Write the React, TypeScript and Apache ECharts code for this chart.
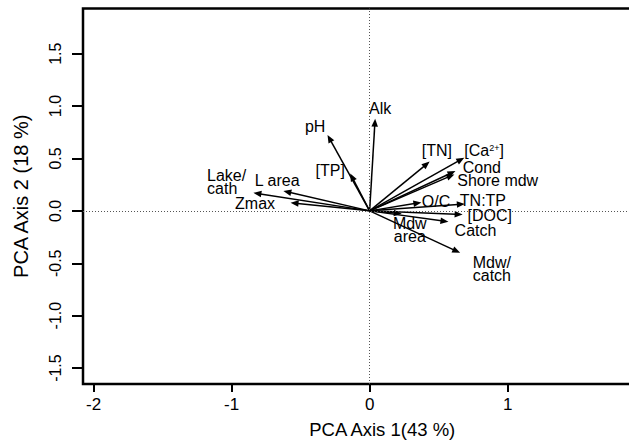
import React, { useEffect, useRef } from "react";
import * as echarts from "echarts";

// Variable loadings on the first two principal components
const varNames = [
  "Alk", "pH", "[TP]", "Lake/cath", "L area", "Zmax",
  "[TN]", "[Ca2+]", "Cond", "Shore mdw", "O/C", "TN:TP",
  "[DOC]", "Catch", "Mdw area", "Mdw/catch",
];
const axis1 = [
  0.04, -0.305, -0.141, -0.842, -0.625, -0.573,
  0.435, 0.686, 0.622, 0.614, 0.375, 0.69,
  0.674, 0.571, 0.233, 0.656,
];
const axis2 = [
  0.88, 0.725, 0.357, 0.172, 0.19, 0.078,
  0.47, 0.507, 0.38, 0.348, 0.08, 0.066,
  -0.035, -0.104, -0.027, -0.4,
];

// Where each variable's name sits, in axis units
const labelText = [
  "Alk", "pH", "[TP]", "Lake/\ncath", "L area", "Zmax",
  "[TN]", "[Ca{sup|2+}]", "Cond", "Shore mdw", "O/C", "TN:TP",
  "[DOC]", "Catch", "Mdw\narea", "Mdw/\ncatch",
];
const labelX = [
  0.076, -0.395, -0.286, -1.178, -0.67, -0.83,
  0.487, 0.83, 0.813, 0.928, 0.481, 0.821,
  0.871, 0.767, 0.291, 0.886,
];
const labelY = [
  0.981, 0.801, 0.385, 0.272, 0.29, 0.068,
  0.577, 0.577, 0.413, 0.293, 0.089, 0.101,
  -0.045, -0.187, -0.187, -0.553,
];
const labelLeft = [3];

const xTicks = [-2, -1, 0, 1];
const yTicks = [-1.5, -1, -0.5, 0, 0.5, 1, 1.5];
const xRange = [-2.077, 2.26];
const yRange = [-1.652, 1.931];

const FONT = '"Liberation Sans", Arial, Helvetica, sans-serif';

export default function App() {
  const ref = useRef<HTMLDivElement>(null);

  useEffect(() => {
    if (!ref.current) return;
    const chart = echarts.init(ref.current, undefined, { renderer: "svg" });

    const arrowData = axis1.map((x, i) => [x, axis2[i], varNames[i]]);
    const labelData = labelX.map((x, i) => [x, labelY[i], labelText[i]]);

    chart.setOption({
      animation: false,
      backgroundColor: "#ffffff",
      grid: {
        left: 83,
        top: 8.5,
        width: (xRange[1] - xRange[0]) * 138,
        height: 379,
        show: true,
        borderColor: "#000",
        borderWidth: 2.5,
        backgroundColor: "transparent",
      },
      xAxis: {
        type: "value",
        min: xRange[0],
        max: xRange[1],
        splitLine: { show: false },
        axisLine: { show: false, onZero: false },
        axisTick: {
          show: true,
          length: 8,
          customValues: xTicks,
          lineStyle: { color: "#000", width: 2 },
        },
        axisLabel: {
          customValues: xTicks,
          margin: 12,
          color: "#000",
          fontFamily: FONT,
          fontSize: 17,
          formatter: (v: number) => String(v),
        },
        name: "PCA Axis 1(43 %)",
        nameLocation: "middle",
        nameGap: 36,
        nameTextStyle: { color: "#000", fontFamily: FONT, fontSize: 18.5 },
      },
      yAxis: {
        type: "value",
        min: yRange[0],
        max: yRange[1],
        splitLine: { show: false },
        axisLine: { show: false, onZero: false },
        axisTick: {
          show: true,
          length: 11,
          customValues: yTicks,
          lineStyle: { color: "#000", width: 2 },
        },
        axisLabel: {
          customValues: yTicks,
          rotate: 90,
          margin: 20,
          color: "#000",
          fontFamily: FONT,
          fontSize: 16,
          formatter: (v: number) => v.toFixed(1),
        },
        name: "PCA Axis 2 (18 %)",
        nameLocation: "middle",
        nameGap: 52,
        nameTextStyle: { color: "#000", fontFamily: FONT, fontSize: 20 },
      },
      series: [
        {
          // dotted reference lines through the origin
          type: "line",
          data: [],
          z: 1,
          markLine: {
            silent: true,
            symbol: "none",
            label: { show: false },
            lineStyle: { type: [1, 2], color: "#555", width: 1 },
            data: [{ xAxis: 0 }, { yAxis: 0 }],
          },
        },
        {
          type: "custom",
          z: 3,
          data: arrowData,
          encode: { x: 0, y: 1 },
          renderItem: (params: any, api: any) => {
            const o = api.coord([0, 0]);
            const t = api.coord([api.value(0), api.value(1)]);
            const ang = Math.atan2(t[1] - o[1], t[0] - o[0]);
            const c = Math.cos(ang);
            const s = Math.sin(ang);
            const L = 8;
            const W = 3.3;
            const bx = t[0] - L * c;
            const by = t[1] - L * s;
            return {
              type: "group",
              children: [
                {
                  type: "line",
                  shape: { x1: o[0], y1: o[1], x2: bx + c, y2: by + s },
                  style: { stroke: "#000", lineWidth: 1.5 },
                },
                {
                  type: "polygon",
                  shape: {
                    points: [
                      [t[0], t[1]],
                      [bx + W * s, by - W * c],
                      [bx - W * s, by + W * c],
                    ],
                  },
                  style: { fill: "#000" },
                },
              ],
            };
          },
        },
        {
          type: "custom",
          z: 4,
          data: labelData,
          encode: { x: 0, y: 1 },
          renderItem: (params: any, api: any) => {
            const i = params.dataIndex;
            const p = api.coord([api.value(0), api.value(1)]);
            return {
              type: "text",
              x: p[0],
              y: p[1],
              style: {
                text: labelText[i],
                fill: "#000",
                fontFamily: FONT,
                fontSize: 16,
                lineHeight: 13,
                align: labelLeft.includes(i) ? "left" : "center",
                verticalAlign: "middle",
                rich: {
                  sup: { fontSize: 9, verticalAlign: "top", fontFamily: FONT, fill: "#000" },
                },
              },
            };
          },
        },
      ],
    });

    return () => chart.dispose();
  }, []);

  return (
    <div
      style={{
        position: "absolute",
        left: 0,
        top: 0,
        width: 629,
        height: 444,
        overflow: "hidden",
        background: "#fff",
      }}
    >
      <div ref={ref} style={{ width: 700, height: 444 }} />
    </div>
  );
}
